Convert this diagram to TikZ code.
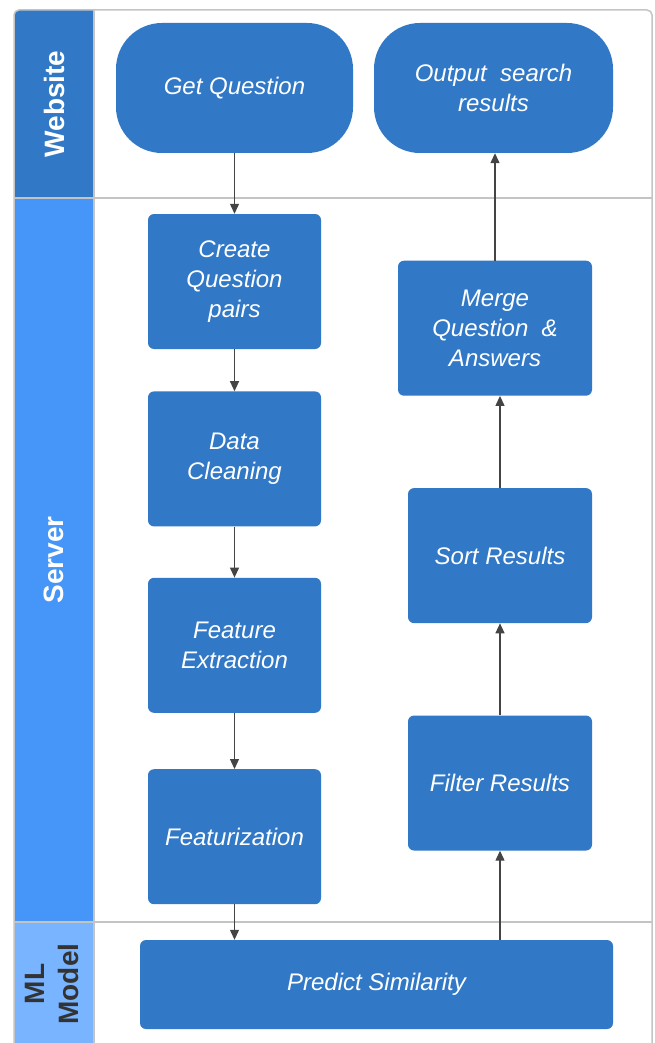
\documentclass[tikz,border=0pt]{standalone}
\usepackage{fontspec}
\setmainfont{Liberation Sans}
\usetikzlibrary{positioning,arrows.meta}

\definecolor{boxblue}{HTML}{3178C6}
\definecolor{serverblue}{HTML}{4596F8}
\definecolor{mlblue}{HTML}{78B4FF}
\definecolor{framegray}{HTML}{C4C4C4}
\definecolor{arrowgray}{HTML}{444444}
\definecolor{labelgray}{HTML}{333333}

\begin{document}
\begin{tikzpicture}[
    x=1pt, y=-1pt,
    node distance=40pt,
    block/.style={rectangle, rounded corners=6pt, fill=boxblue, text=white, font=\fontsize{24}{30}\selectfont\itshape, align=center, minimum width=173pt, minimum height=135pt, inner sep=0pt},
    terminal/.style={block, rounded corners=46pt, minimum height=130pt},
    arrow/.style={-{Triangle[length=10pt, width=9pt]}, draw=arrowgray, line width=1.2pt},
    lane/.style={font=\fontsize{28}{34}\selectfont\bfseries, text=white, rotate=90, align=center},
    divider/.style={draw=framegray, line width=1.5pt}
]
    \useasboundingbox (0,0) rectangle (654,1043);

    % Lane headers
    \begin{scope}
        \clip[rounded corners=5pt] (14,10) rectangle (652,1080);
        \fill[boxblue] (14,10) rectangle (94,198);
        \fill[serverblue] (14,198) rectangle (94,922);
        \fill[mlblue] (14,922) rectangle (94,1080);
    \end{scope}
    \node[lane] (website) at (54,104) {Website};
    \node[lane] (server) at (54,560) {Server};
    \node[lane, text=labelgray] (mlmodel) at (52,984) {ML\\Model};

    % Frame and lane dividers
    \draw[divider, rounded corners=5pt] (14,1080) -- (14,10) -- (652,10) -- (652,1080);
    \draw[divider] (94,10) -- (94,1080);
    \draw[divider] (14,198) -- (652,198);
    \draw[divider] (14,922) -- (652,922);

    % Website
    \node[terminal, minimum width=237pt] (getq) at (234.5,88) {Get Question};
    \node[terminal, minimum width=239pt] (output) at (493.5,88) {Output~~search\\results};

    % Server, left column
    \node[block] (create) at (234.5,281.5) {Create\\Question\\pairs};
    \node[block, below=42pt of create] (clean) {Data\\Cleaning};
    \node[block, below=51pt of clean] (extract) {Feature\\Extraction};
    \node[block, below=56pt of extract] (featurize) {Featurization};

    % Server, right column
    \node[block, minimum width=184pt] (filter) at (500,783) {Filter Results};
    \node[block, minimum width=184pt, above=92pt of filter] (sort) {Sort Results};
    \node[block, minimum width=194pt, above=92pt of sort, xshift=-5pt] (merge) {Merge\\Question~~\&\\Answers};

    % ML model
    \node[block, minimum width=473pt, minimum height=89pt] (predict) at (376.5,984.5) {Predict Similarity};

    % Flow
    \draw[arrow] (getq) -- (create);
    \draw[arrow] (create) -- (clean);
    \draw[arrow] (clean) -- (extract);
    \draw[arrow] (extract) -- (featurize);
    \draw[arrow] (featurize) -- (featurize |- predict.north);
    \draw[arrow] (predict.north -| filter) -- (filter);
    \draw[arrow] (filter) -- (sort);
    \draw[arrow] (sort) -- (sort |- merge.south);
    \draw[arrow] (merge) -- (merge |- output.south);
\end{tikzpicture}
\end{document}
